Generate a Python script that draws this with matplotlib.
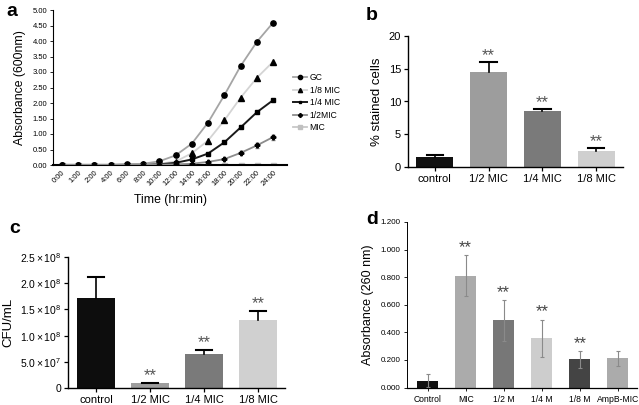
import numpy as np
import matplotlib
matplotlib.use('Agg')
import matplotlib.pyplot as plt

plt.rcParams['font.family'] = ['Liberation Sans', 'DejaVu Sans']
plt.rcParams['mathtext.fontset'] = 'custom'
plt.rcParams['mathtext.rm'] = 'Liberation Sans'
plt.rcParams['mathtext.it'] = 'Liberation Sans'

# panel a - growth curves
time_labels = ['0:00', '1:00', '2:00', '4:00', '6:00', '8:00', '10:00', '12:00',
               '14:00', '16:00', '18:00', '20:00', '22:00', '24:00']
gc = [0.01, 0.01, 0.01, 0.01, 0.02, 0.04, 0.12, 0.31, 0.69, 1.37, 2.25, 3.19, 3.97, 4.59]
mic_8 = [0.0, 0.0, 0.0, 0.0, 0.01, 0.02, 0.04, 0.11, 0.38, 0.79, 1.44, 2.17, 2.81, 3.33]
mic_4 = [0.0, 0.0, 0.0, 0.0, 0.01, 0.01, 0.02, 0.07, 0.18, 0.37, 0.73, 1.21, 1.70, 2.09]
mic_2 = [0.0, 0.0, 0.0, 0.0, 0.0, 0.01, 0.01, 0.02, 0.04, 0.10, 0.19, 0.39, 0.63, 0.90]
mic_1 = [0.01, 0.01, 0.01, 0.01, 0.01, 0.01, 0.01, 0.01, 0.01, 0.01, 0.01, 0.01, 0.01, 0.01]
gc_err = [0, 0, 0, 0, 0, 0, 0.01, 0.02, 0.03, 0.05, 0.05, 0.06, 0.04, 0.03]
mic_2_err = [0, 0, 0, 0, 0, 0, 0, 0, 0.01, 0.02, 0.03, 0.05, 0.07, 0.08]

# panel b - stained cells
b_labels = ['control', '1/2 MIC', '1/4 MIC', '1/8 MIC']
b_vals = [1.52, 14.55, 8.48, 2.42]
b_err = [0.30, 1.51, 0.42, 0.52]
b_sig = [False, True, True, True]

# panel c - CFU
c_labels = ['control', '1/2 MIC', '1/4 MIC', '1/8 MIC']
c_vals = [1.72e8, 0.9e7, 6.46e7, 1.30e8]
c_err = [0.39e8, 0.1e7, 0.84e7, 0.17e8]
c_sig = [False, True, True, True]
c_ticks = [0, 5.0e7, 1.0e8, 1.5e8, 2.0e8, 2.5e8]
c_ticklabels = ['0', r'$5.0\times10^7$', r'$1.0\times10^8$', r'$1.5\times10^8$',
                r'$2.0\times10^8$', r'$2.5\times10^8$']

# panel d - absorbance 260 nm
d_labels = ['Control', 'MIC', '1/2 M', '1/4 M', '1/8 M', 'AmpB-MIC']
d_vals = [0.050, 0.812, 0.486, 0.357, 0.205, 0.212]
d_err = [0.045, 0.150, 0.146, 0.136, 0.060, 0.055]
d_sig = [False, True, True, True, True, False]

W, H = 639, 405
fig = plt.figure(figsize=(W / 100, H / 100), dpi=100)


def box(x0, x1, ytop, ybot):
    return [x0 / W, (H - ybot) / H, (x1 - x0) / W, (ybot - ytop) / H]


# ---------- a ----------
ax = fig.add_axes(box(53, 287, 10, 165))
x = np.arange(len(time_labels))
h_gc = ax.errorbar(x, gc, yerr=gc_err, color='#a5a5a5', lw=1.3, marker='o', ms=3.8,
                   mfc='black', mec='black', ecolor='#a5a5a5', elinewidth=0.6, capsize=1.2, zorder=3)
h_8, = ax.plot(x, mic_8, color='#d4d4d4', lw=1.3, marker='^', ms=3.8, mfc='black', mec='black', zorder=3)
h_4, = ax.plot(x, mic_4, color='#1a1a1a', lw=1.4, marker='s', ms=2.6, mfc='black', mec='black', zorder=3)
h_2 = ax.errorbar(x, mic_2, yerr=mic_2_err, color='#8c8c8c', lw=1.3, marker='P', ms=3.3,
                  mfc='black', mec='black', ecolor='#8c8c8c', elinewidth=0.6, capsize=1.2, zorder=3)
h_1, = ax.plot(x, mic_1, color='#c8c8c8', lw=1.3, marker='s', ms=3.6, mfc='#c0c0c0', mec='#c0c0c0', zorder=2)
ax.set_xlim(-0.55, 13.86)
ax.set_ylim(0, 5)
ax.set_yticks(np.arange(0, 5.01, 0.5))
ax.set_yticklabels(['%.2f' % v for v in np.arange(0, 5.01, 0.5)], fontsize=5.5)
ax.set_xticks(x)
ax.set_xticklabels(time_labels, rotation=45, ha='right', rotation_mode='anchor', fontsize=5.5)
ax.tick_params(axis='x', length=0, pad=3)
ax.tick_params(axis='y', length=2, width=0.6, pad=2)
for s in ['top', 'right']:
    ax.spines[s].set_visible(False)
ax.spines['left'].set_linewidth(0.8)
ax.spines['bottom'].set_linewidth(1.5)
ax.set_ylabel('Absorbance (600nm)', fontsize=8.8, labelpad=5)
ax.set_xlabel('Time (hr:min)', fontsize=8.8, labelpad=5)
ax.legend([h_gc[0], h_8, h_4, h_2[0], h_1], ['GC', '1/8 MIC', '1/4 MIC', '1/2MIC', 'MIC'],
          loc='upper left', bbox_to_anchor=((289 - 53) / 234, (165 - 69) / 155), frameon=False,
          fontsize=6.2, handlelength=1.6, handletextpad=0.3, labelspacing=0.4, borderpad=0, markerscale=0.8)
fig.text(6 / W, 1 - 11 / H, 'a', fontsize=14, fontweight='bold', va='center')


def graphpad_bars(ax, labels, vals, errs, sig, colors, width, star_gap, fontsize):
    pos = np.arange(len(labels))
    ax.bar(pos, vals, width=width, color=colors, edgecolor='none', zorder=2)
    for p, v, e in zip(pos, vals, errs):
        ax.plot([p, p], [v, v + e], color='black', lw=1.2, zorder=3)
        ax.plot([p - width * 0.22, p + width * 0.22], [v + e, v + e], color='black', lw=1.5, zorder=3)
    for p, v, e, s in zip(pos, vals, errs, sig):
        if s:
            ax.text(p, v + e + star_gap, '**', ha='center', va='center', fontsize=12, color='#555555')
    ax.set_xticks(pos)
    ax.set_xticklabels(labels, fontsize=fontsize)
    for s in ['top', 'right']:
        ax.spines[s].set_visible(False)
    ax.spines['left'].set_linewidth(1.0)
    ax.spines['bottom'].set_linewidth(1.0)
    ax.tick_params(axis='both', length=3, width=0.9, labelsize=fontsize, pad=2)


# ---------- b ----------
ax = fig.add_axes(box(408, 623, 36, 167))
graphpad_bars(ax, b_labels, b_vals, b_err, b_sig, ['#111111', '#9d9d9d', '#7a7a7a', '#cfcfcf'],
              0.69, 0.9, 8)
ax.set_xlim(-0.5, 3.5)
ax.set_ylim(0, 20)
ax.set_yticks([0, 5, 10, 15, 20])
ax.set_ylabel('% stained cells', fontsize=9.5, labelpad=4)
fig.text(366 / W, 1 - 15 / H, 'b', fontsize=14, fontweight='bold', va='center')

# ---------- c ----------
ax = fig.add_axes(box(68, 285, 257, 388))
graphpad_bars(ax, c_labels, c_vals, c_err, c_sig, ['#0d0d0d', '#9d9d9d', '#7a7a7a', '#d0d0d0'],
              0.69, 0.14e8, 8)
ax.set_xlim(-0.52, 3.5)
ax.set_ylim(0, 2.5e8)
ax.set_yticks(c_ticks)
ax.set_yticklabels(c_ticklabels, fontsize=7.5)
ax.set_ylabel('CFU/mL', fontsize=9.5, labelpad=4)
fig.text(9 / W, 1 - 228 / H, 'c', fontsize=14, fontweight='bold', va='center')

# ---------- d ----------
ax = fig.add_axes(box(407, 637, 222, 387.5))
pos = np.arange(len(d_labels))
ax.bar(pos, d_vals, width=0.55, color=['#111111', '#ababab', '#777777', '#cdcdcd', '#444444', '#ababab'],
       yerr=d_err, error_kw=dict(ecolor='#8a8a8a', elinewidth=0.8, capsize=1.5, capthick=0.8), zorder=2)
for p, v, e, s in zip(pos, d_vals, d_err, d_sig):
    if s:
        ax.text(p, v + e + 0.055, '**', ha='center', va='center', fontsize=12, color='#444444')
ax.set_xlim(-0.54, 5.5)
ax.set_ylim(0, 1.2)
ax.set_yticks(np.arange(0, 1.21, 0.2))
ax.set_yticklabels(['%.3f' % v for v in np.arange(0, 1.21, 0.2)], fontsize=5.8)
ax.set_xticks(pos)
ax.set_xticklabels(d_labels, fontsize=6.2)
for s in ['top', 'right']:
    ax.spines[s].set_visible(False)
ax.spines['left'].set_linewidth(0.7)
ax.spines['bottom'].set_linewidth(0.9)
ax.tick_params(axis='y', length=2.5, width=0.6, pad=2)
ax.tick_params(axis='x', length=2.5, width=0.6, pad=3)
ax.set_ylabel('Absorbance (260 nm)', fontsize=9, labelpad=5)
fig.text(366 / W, 1 - 219 / H, 'd', fontsize=14, fontweight='bold', va='center')

fig.savefig('out.png', dpi=100)
